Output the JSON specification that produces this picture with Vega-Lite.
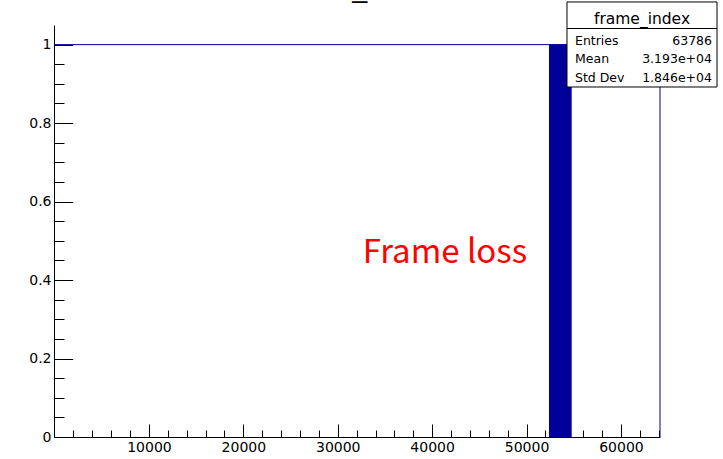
{
  "$schema": "https://vega.github.io/schema/vega-lite/v6.json",
  "width": 606,
  "height": 412,
  "autosize": {"type": "none"},
  "padding": {"left": 54, "top": 25, "right": 63, "bottom": 22},
  "background": "white",
  "config": {"view": {"stroke": null}, "font": "DejaVu Sans"},
  "datasets": {
    "band": [{"x0": 52380, "x1": 54785, "top": 1, "bottom": 0}],
    "hist": [
      {"i": 0, "x": -60, "y": 1},
      {"i": 1, "x": 64140, "y": 1},
      {"i": 2, "x": 64140, "y": 0}
    ],
    "box": [{"x0": 54287, "x1": 70181, "y0": 0.892, "y1": 1.1087, "sep": 1.0411}],
    "stats": [
      {"label": "Entries", "value": "63786", "y": 0.999},
      {"label": "Mean", "value": "3.193e+04", "y": 0.9519},
      {"label": "Std Dev", "value": "1.846e+04", "y": 0.9035}
    ],
    "statsTitle": [{"text": "frame_index", "x": 62233, "y": 1.0526}],
    "mainTitle": [{"text": "frame_index", "x": 32093, "y": 1.1214}],
    "note": [{"text": "Frame loss", "x": 32644, "y": 0.4442}]
  },
  "resolve": {"axis": {"x": "independent", "y": "independent"}},
  "layer": [
    {
      "data": {"name": "band"},
      "mark": {"type": "bar", "color": "#000099"},
      "encoding": {
        "x": {"field": "x0", "type": "quantitative", "scale": {"domain": [-60, 64140], "nice": false, "zero": false},
          "axis": {"orient": "bottom", "values": [10000, 20000, 30000, 40000, 50000, 60000], "format": "d", "tickSize": -13, "tickColor": "black", "domainColor": "black", "labelFont": "DejaVu Sans", "labelFontSize": 14, "labelColor": "black", "labelPadding": 16, "title": null, "grid": false, "labelFlush": false, "labelOverlap": false}},
        "x2": {"field": "x1"},
        "y": {"field": "top", "type": "quantitative", "scale": {"domain": [0, 1.05], "nice": false, "zero": false},
          "axis": {"orient": "left", "values": [0, 0.2, 0.4, 0.6, 0.8, 1], "format": "~g", "tickSize": -18.7, "tickColor": "black", "domainColor": "black", "labelFont": "DejaVu Sans", "labelFontSize": 14, "labelColor": "black", "labelPadding": 21.7, "title": null, "grid": false, "labelOverlap": false}},
        "y2": {"field": "bottom"}
      }
    },
    {
      "data": {"name": "hist"},
      "mark": {"type": "line", "color": "#000099", "strokeWidth": 1},
      "encoding": {
        "x": {"field": "x", "type": "quantitative", "scale": {"domain": [-60, 64140], "nice": false, "zero": false},
          "axis": {"orient": "bottom", "values": [2000, 4000, 6000, 8000, 12000, 14000, 16000, 18000, 22000, 24000, 26000, 28000, 32000, 34000, 36000, 38000, 42000, 44000, 46000, 48000, 52000, 54000, 56000, 58000, 62000, 64000], "tickSize": -7, "tickColor": "black", "labels": false, "domain": false, "title": null, "grid": false}},
        "y": {"field": "y", "type": "quantitative", "scale": {"domain": [0, 1.05], "nice": false, "zero": false},
          "axis": {"orient": "left", "values": [0.05, 0.1, 0.15, 0.25, 0.3, 0.35, 0.45, 0.5, 0.55, 0.65, 0.7, 0.75, 0.85, 0.9, 0.95], "tickSize": -10, "tickColor": "black", "labels": false, "domain": false, "title": null, "grid": false}},
        "order": {"field": "i", "type": "quantitative"}
      }
    },
    {
      "data": {"name": "mainTitle"},
      "mark": {"type": "text", "align": "center", "baseline": "alphabetic", "font": "Liberation Sans", "fontSize": 27, "color": "black"},
      "encoding": {
        "x": {"field": "x", "type": "quantitative", "axis": null},
        "y": {"field": "y", "type": "quantitative", "axis": null},
        "text": {"field": "text"}
      }
    },
    {
      "data": {"name": "box"},
      "mark": {"type": "rect", "fill": "white", "stroke": "black", "strokeWidth": 1},
      "encoding": {
        "x": {"field": "x0", "type": "quantitative", "axis": null},
        "x2": {"field": "x1"},
        "y": {"field": "y0", "type": "quantitative", "axis": null},
        "y2": {"field": "y1"}
      }
    },
    {
      "data": {"name": "box"},
      "mark": {"type": "rule", "color": "black", "strokeWidth": 1},
      "encoding": {
        "x": {"field": "x0", "type": "quantitative", "axis": null},
        "x2": {"field": "x1"},
        "y": {"field": "sep", "type": "quantitative", "axis": null}
      }
    },
    {
      "data": {"name": "statsTitle"},
      "mark": {"type": "text", "align": "center", "baseline": "alphabetic", "font": "DejaVu Sans", "fontSize": 15.5, "color": "black"},
      "encoding": {
        "x": {"field": "x", "type": "quantitative", "axis": null},
        "y": {"field": "y", "type": "quantitative", "axis": null},
        "text": {"field": "text"}
      }
    },
    {
      "data": {"name": "stats"},
      "mark": {"type": "text", "align": "left", "baseline": "alphabetic", "font": "DejaVu Sans", "fontSize": 12.5, "color": "black"},
      "encoding": {
        "x": {"datum": 55135, "type": "quantitative", "axis": null},
        "y": {"field": "y", "type": "quantitative", "axis": null},
        "text": {"field": "label"}
      }
    },
    {
      "data": {"name": "stats"},
      "mark": {"type": "text", "align": "right", "baseline": "alphabetic", "font": "DejaVu Sans", "fontSize": 12.5, "color": "black"},
      "encoding": {
        "x": {"datum": 69648, "type": "quantitative", "axis": null},
        "y": {"field": "y", "type": "quantitative", "axis": null},
        "text": {"field": "value"}
      }
    },
    {
      "data": {"name": "note"},
      "mark": {"type": "text", "align": "left", "baseline": "alphabetic", "font": "Noto Sans CJK SC", "fontSize": 33, "color": "#ff0000"},
      "encoding": {
        "x": {"field": "x", "type": "quantitative", "axis": null},
        "y": {"field": "y", "type": "quantitative", "axis": null},
        "text": {"field": "text"}
      }
    }
  ]
}
